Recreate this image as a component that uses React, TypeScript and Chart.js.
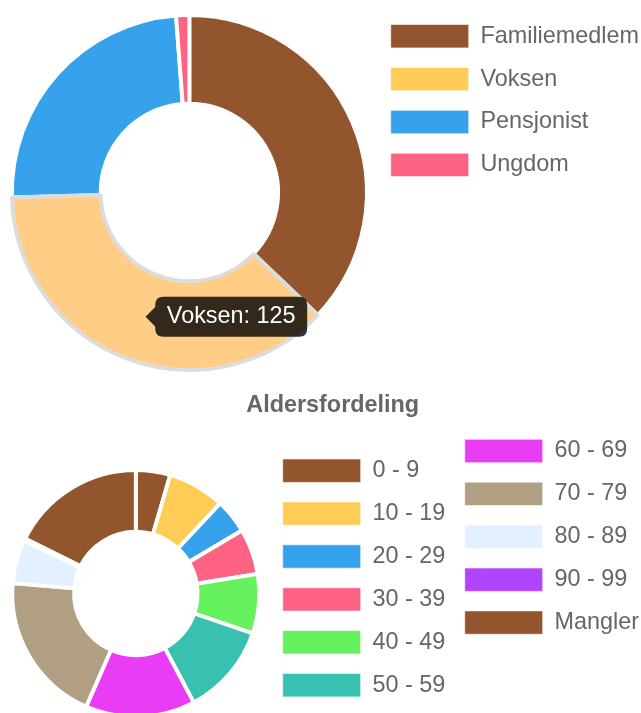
import React, { useEffect, useRef } from 'react';
import { Chart, registerables } from 'chart.js';

Chart.register(...registerables);

const FONT = "'Liberation Sans', Arial, Helvetica, sans-serif";
const TEXT_GREY = '#666';

// ---- Top chart data ----
const typeLabels = ['Familiemedlem', 'Voksen', 'Pensjonist', 'Ungdom'];
const typeValues = [124, 125, 81, 4];
const typeColors = ['#92552D', '#FFCD56', '#36A2EB', '#FF6384'];
const typeHoverColors = ['#92552D', '#FFCD86', '#36A2EB', '#FF6384'];
const highlightedIndex = 1;

// ---- Bottom chart data ----
const ageTitle = 'Aldersfordeling';
const ageLabels = ['0 - 9', '10 - 19', '20 - 29', '30 - 39', '40 - 49', '50 - 59', '60 - 69', '70 - 79', '80 - 89', '90 - 99', 'Mangler'];
const ageValues = [15, 25, 15, 20, 26, 40, 48, 66, 19, 1, 59];
const ageColors = ['#92552D', '#FFCD56', '#36A2EB', '#FF6384', '#66F15E', '#38C1B1', '#E83CF5', '#B09F82', '#E3F0FF', '#B145FF', '#92552D'];

const LEGEND_FONT = { family: FONT, size: 23.4 };
const LEGEND_PAD = 19.5;

const legendLabels = (chart: any) =>
  (Chart as any).overrides.doughnut.plugins.legend.labels
    .generateLabels(chart)
    .map((l: any) => ({ ...l, lineWidth: 1, strokeStyle: 'rgba(255,255,255,0.6)' }));

// Keeps the legend columns where the original rendering put them
const ageLegendLayout = {
  id: 'ageLegendLayout',
  beforeLayout(chart: any) {
    const lg = chart.legend;
    if (lg && !lg.__patched) {
      const fit = lg.fit.bind(lg);
      lg.fit = function () {
        fit();
        this.width = 393.8;
      };
      lg.__patched = true;
    }
  },
  afterLayout(chart: any) {
    const lg = chart.legend;
    if (!lg || !lg.columnSizes || lg.columnSizes.length < 2) return;
    const areaTop = chart.chartArea.top;
    const h = (y: number) => lg.top + LEGEND_PAD + lg.bottom - 2 * y;
    lg.columnSizes[0].height = h(areaTop + 8.9);
    lg.columnSizes[1].height = h(areaTop - 10.8);
  },
};

export default function App() {
  const topRef = useRef<HTMLCanvasElement>(null);
  const bottomRef = useRef<HTMLCanvasElement>(null);

  useEffect(() => {
    document.body.style.margin = '0';
    document.body.style.overflow = 'hidden';

    const top = new Chart(topRef.current as HTMLCanvasElement, {
      type: 'doughnut',
      data: {
        labels: typeLabels,
        datasets: [
          {
            data: typeValues,
            backgroundColor: typeColors,
            hoverBackgroundColor: typeHoverColors,
            borderColor: '#fff',
            borderWidth: 3.9,
            hoverBorderColor: '#dcdcdc',
            hoverBorderWidth: 3.9,
            hoverOffset: 0,
            radius: 177.5,
          } as any,
        ],
      },
      options: {
        responsive: false,
        animation: false,
        devicePixelRatio: 1,
        cutout: '50%',
        layout: { padding: { left: 7.5, top: 5, right: 0, bottom: 0 } },
        plugins: {
          legend: {
            position: 'right',
            align: 'start',
            labels: {
              boxWidth: 78,
              padding: LEGEND_PAD,
              color: TEXT_GREY,
              font: LEGEND_FONT,
              generateLabels: legendLabels,
            },
          },
          title: { display: false },
          tooltip: {
            enabled: true,
            backgroundColor: 'rgba(0,0,0,0.8)',
            bodyColor: '#fff',
            bodyFont: { family: FONT, size: 23.4 },
            padding: { x: 11.6, y: 6 } as any,
            caretSize: 9.7,
            caretPadding: 3.9,
            cornerRadius: 8,
            displayColors: false,
            xAlign: 'left',
            yAlign: 'center',
            callbacks: {
              title: () => '',
              label: (c: any) => `${c.label}: ${c.formattedValue}`,
            },
          },
        },
      },
    });
    const active = [{ datasetIndex: 0, index: highlightedIndex }];
    top.setActiveElements(active);
    top.tooltip?.setActiveElements(active, { x: 0, y: 0 });
    top.update();

    const bottom = new Chart(bottomRef.current as HTMLCanvasElement, {
      type: 'doughnut',
      data: {
        labels: ageLabels,
        datasets: [
          {
            data: ageValues,
            backgroundColor: ageColors,
            hoverBackgroundColor: ageColors,
            borderColor: '#fff',
            borderWidth: 3.9,
            hoverOffset: 0,
            radius: 123.5,
          } as any,
        ],
      },
      options: {
        responsive: false,
        animation: false,
        devicePixelRatio: 1,
        cutout: '50%',
        layout: { padding: { left: 8.4, top: 2, right: 0, bottom: 0 } },
        plugins: {
          title: {
            display: true,
            text: ageTitle,
            color: TEXT_GREY,
            font: { family: FONT, size: 23.4, weight: 'bold' },
            padding: { top: 10, bottom: 30 },
          },
          legend: {
            position: 'right',
            align: 'center',
            labels: {
              boxWidth: 78,
              padding: LEGEND_PAD,
              color: TEXT_GREY,
              font: LEGEND_FONT,
              generateLabels: legendLabels,
            },
          },
          tooltip: { enabled: false },
        },
      },
      plugins: [ageLegendLayout],
    });

    return () => {
      top.destroy();
      bottom.destroy();
    };
  }, []);

  return (
    <div style={{ width: 641, height: 713, overflow: 'hidden' }}>
      <canvas ref={topRef} width={649} height={380} style={{ display: 'block' }} />
      <canvas ref={bottomRef} width={657} height={357} style={{ display: 'block' }} />
    </div>
  );
}
